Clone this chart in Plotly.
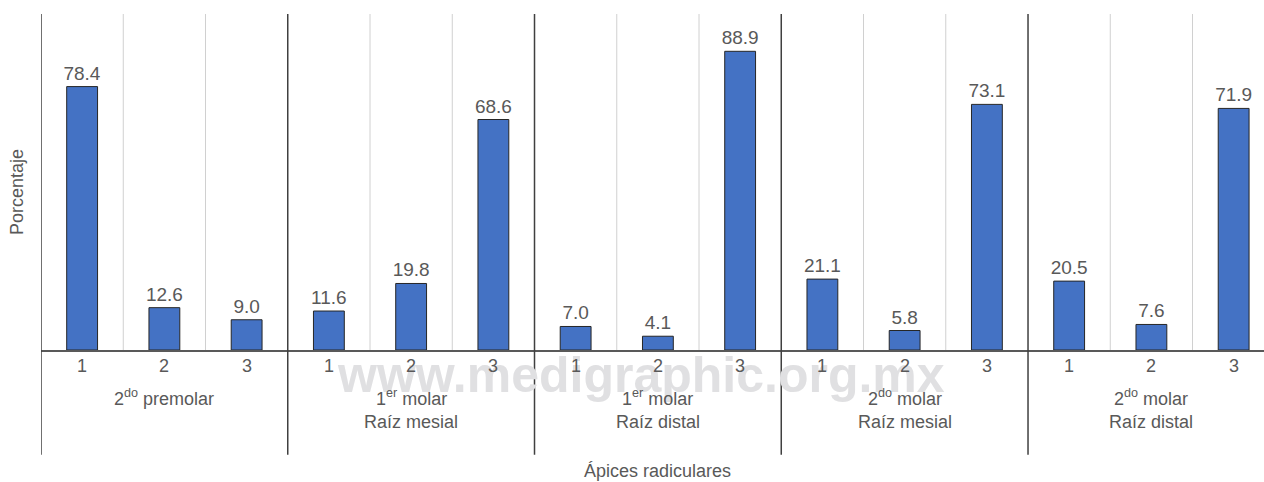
import plotly.graph_objects as go

groups = ["2<sup>do</sup> premolar", "1<sup>er</sup> molar<br>Raíz mesial", "1<sup>er</sup> molar<br>Raíz distal",
          "2<sup>do</sup> molar<br>Raíz mesial", "2<sup>do</sup> molar<br>Raíz distal"]
apices = ["1", "2", "3"]
values = [78.4, 12.6, 9.0,
          11.6, 19.8, 68.6,
          7.0, 4.1, 88.9,
          21.1, 5.8, 73.1,
          20.5, 7.6, 71.9]
labels = [f"{v:.1f}" for v in values]
x_title = "Ápices radiculares"
y_title = "Porcentaje"
watermark = "www.medigraphic.org.mx"

FONT = "Liberation Sans, Arial, sans-serif"
TXT = "#595959"

n = len(values)
xs = list(range(n))
ticktext = [apices[i % 3] for i in xs]

fig = go.Figure()
fig.add_trace(go.Bar(
    x=xs, y=values, width=0.375,
    marker=dict(color="#4472C4", line=dict(color="#262626", width=1)),
    text=labels, textposition="outside", cliponaxis=False, constraintext="none",
    textfont=dict(family=FONT, size=19, color=TXT),
    showlegend=False))

shapes = []
for i in range(n + 1):
    xb = i - 0.5
    if i % 3 == 0:
        shapes.append(dict(type="line", xref="x", yref="paper", x0=xb, x1=xb, y0=-0.312, y1=1,
                           line=dict(color="#404040", width=1.5), layer="above"))
    else:
        shapes.append(dict(type="line", xref="x", yref="paper", x0=xb, x1=xb, y0=0, y1=1,
                           line=dict(color="#D0D0D0", width=1), layer="below"))

annotations = []
# watermark first so that the labels are drawn over it
annotations.append(dict(x=6.79, y=0, xref="x", yref="paper", text="<b>" + watermark + "</b>",
                        showarrow=False, yanchor="middle", yshift=-25,
                        font=dict(family=FONT, size=50, color="#E0E0E2")))
for i in xs:
    annotations.append(dict(x=i, y=0, xref="x", yref="paper", text=ticktext[i], showarrow=False,
                            yanchor="middle", yshift=-16, font=dict(family=FONT, size=18, color=TXT)))
for g, name in enumerate(groups):
    parts = name.split("<br>")
    for k, p in enumerate(parts):
        annotations.append(dict(x=g * 3 + 1, y=0, xref="x", yref="paper", text=p, showarrow=False,
                                yanchor="middle", yshift=-47 - 25 * k,
                                font=dict(family=FONT, size=18, color=TXT)))
annotations.append(dict(x=7, y=0, xref="x", yref="paper", text=x_title, showarrow=False,
                        yanchor="middle", yshift=-121, font=dict(family=FONT, size=18, color=TXT)))
annotations.append(dict(x=0, y=0.47, xref="paper", yref="paper", text=y_title, showarrow=False,
                        textangle=-90, xanchor="center", yanchor="middle", xshift=-24,
                        font=dict(family=FONT, size=18, color=TXT)))

fig.update_layout(
    width=1264, height=482,
    margin=dict(l=41, r=0, t=14, b=132),
    plot_bgcolor="white", paper_bgcolor="white",
    shapes=shapes, annotations=annotations,
    xaxis=dict(range=[-0.5, 14.369], tickvals=xs, showticklabels=False, showgrid=False, zeroline=False,
               showline=True, linecolor="#595959", linewidth=1.5, ticks=""),
    yaxis=dict(range=[0, 100], showticklabels=False, showgrid=False, zeroline=False, showline=False),
)

fig.write_html("out.html")
